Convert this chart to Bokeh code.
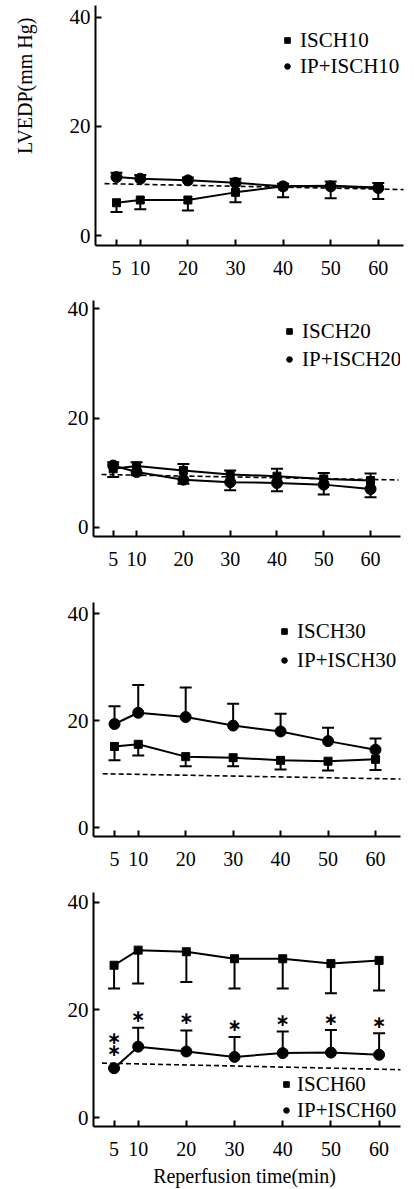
import math
from bokeh.plotting import figure
from bokeh.models import (ColumnDataSource, Whisker, TeeHead, Legend, LegendItem,
                          Label, FixedTicker, Range1d)
from bokeh.layouts import column, row
from bokeh.core.properties import value
from bokeh.embed import file_html
from bokeh.resources import INLINE

# ---------------- data ----------------
times = [5, 10, 20, 30, 40, 50, 60]
x_ticks = [5, 10, 20, 30, 40, 50, 60]
y_ticks = [0, 20, 40]

isch10 = [6.0, 6.5, 6.5, 7.9, 9.0, 9.1, 8.8]
isch10_err = [1.7, 1.7, 1.9, 1.8, 2.0, 2.3, 2.1]          # drawn downward
ip_isch10 = [10.7, 10.4, 10.1, 9.65, 9.0, 9.0, 8.7]
ip_isch10_err = [0.8, 0.7, 0.5, 0.75, 0.5, 0.9, 0.9]      # drawn upward

isch20 = [10.7, 11.2, 10.4, 9.65, 9.35, 8.85, 8.55]
isch20_err = [1.2, 0.7, 1.2, 0.75, 1.35, 1.1, 1.3]        # upward
ip_isch20 = [11.3, 10.1, 8.7, 8.25, 8.1, 7.8, 7.0]
ip_isch20_err = [2.1, 0.6, 0.75, 1.5, 1.5, 1.8, 1.5]      # downward

isch30 = [15.2, 15.6, 13.3, 13.1, 12.6, 12.45, 12.8]
isch30_err = [2.6, 2.1, 1.8, 1.6, 1.7, 1.75, 2.0]         # downward
ip_isch30 = [19.4, 21.5, 20.7, 19.1, 18.0, 16.2, 14.6]
ip_isch30_err = [3.3, 5.2, 5.5, 4.1, 3.3, 2.5, 2.1]       # upward

isch60 = [28.3, 31.1, 30.8, 29.5, 29.5, 28.6, 29.2]
isch60_err = [4.3, 6.2, 5.6, 5.5, 5.5, 5.5, 5.6]          # downward
ip_isch60 = [9.2, 13.2, 12.3, 11.3, 12.0, 12.1, 11.7]
ip_isch60_err = [0.0, 3.5, 3.9, 3.7, 4.0, 4.2, 4.0]       # upward

# significance marks (panel 4)
sig_x = [5, 5, 10, 20, 30, 40, 50, 60]
sig_y = [14.8, 12.6, 18.9, 18.5, 17.2, 18.2, 18.3, 17.8]

# baseline dashed reference line (ends)
ref_x = [2.5, 66]
ref1_y = [9.5, 8.4]
ref2_y = [9.65, 8.65]
ref3_y = [10.1, 9.1]
ref4_y = [10.15, 8.9]

labels1 = ["ISCH10", "IP+ISCH10"]
labels2 = ["ISCH20", "IP+ISCH20"]
labels3 = ["ISCH30", "IP+ISCH30"]
labels4 = ["ISCH60", "IP+ISCH60"]

y_title = "LVEDP(mm Hg)"
x_title = "Reperfusion  time(min)"

SERIF = "Liberation Serif"
W = 414
TW = 40   # width of the strip that carries the y title


def make_panel(sq, sq_err, sq_up, ci, ci_err, ci_up, labels, ref_y, geo):
    p = figure(width=geo.get("w", W), height=geo["h"], output_backend="svg",
               toolbar_location=None,
               x_range=Range1d(*geo["xr"]), y_range=Range1d(*geo["yr"]),
               min_border_left=geo["bl"], min_border_right=geo["br"],
               min_border_top=geo["bt"], min_border_bottom=geo["bb"])
    p.grid.visible = False
    p.outline_line_color = None
    p.background_fill_color = "white"
    p.border_fill_color = "white"

    for ax in (p.xaxis[0], p.yaxis[0]):
        ax.axis_line_width = 2
        ax.axis_line_color = "black"
        ax.major_tick_line_width = 2
        ax.major_tick_line_color = "black"
        ax.major_tick_in = 6
        ax.major_tick_out = 0
        ax.minor_tick_line_color = None
        ax.major_label_text_font = SERIF
        ax.major_label_text_color = "black"
    p.xaxis.ticker = FixedTicker(ticks=x_ticks)
    p.yaxis.ticker = FixedTicker(ticks=y_ticks)
    p.xaxis.major_label_text_font_size = "20px"
    p.yaxis.major_label_text_font_size = "21px"
    p.xaxis.major_label_standoff = 15
    p.yaxis.major_label_standoff = 5

    # reference dashed line
    p.line(ref_x, ref_y, line_color="black", line_width=1.6, line_dash="5 3")

    def add_series(vals, err, up, marker, size):
        lo = [v - e if not up else v for v, e in zip(vals, err)]
        hi = [v + e if up else v for v, e in zip(vals, err)]
        src = ColumnDataSource(dict(x=times, y=vals, lo=lo, hi=hi))
        head = TeeHead(size=12, line_width=2, line_color="black")
        w = Whisker(source=src, base="x", upper="hi", lower="lo",
                    line_width=2, line_color="black",
                    upper_head=head if up else None,
                    lower_head=None if up else head)
        p.add_layout(w)
        p.line("x", "y", source=src, line_color="black", line_width=2)
        r = p.scatter("x", "y", source=src, marker=marker, size=size,
                      fill_color="black", line_color="black")
        return r

    r_sq = add_series(sq, sq_err, sq_up, "square", 8)
    r_ci = add_series(ci, ci_err, ci_up, "circle", 11)

    leg = Legend(items=[LegendItem(label=labels[0], renderers=[r_sq]),
                        LegendItem(label=labels[1], renderers=[r_ci])],
                 location=geo["leg"], orientation="vertical",
                 padding=0, margin=0, spacing=geo["sp"],
                 glyph_width=14, glyph_height=26, label_height=26,
                 label_standoff=geo["ls"],
                 label_text_font=SERIF, label_text_font_size="21px",
                 label_text_color="black",
                 border_line_color=None, background_fill_alpha=0)
    p.add_layout(leg)
    return p


geo1 = dict(w=W - TW, h=290, xr=(0.59, 65.3), yr=(-1.83, 42.12), bl=95 - TW, br=11,
            bt=5, bb=45, leg=(185, 166), sp=0, ls=6)
geo2 = dict(h=300, xr=(0.79, 66.4), yr=(-1.70, 41.52), bl=93, br=5, bt=10, bb=54,
            leg=(189, 164), sp=2, ls=6)
geo3 = dict(h=290, xr=(0.57, 65.27), yr=(-1.63, 42.11), bl=93, br=14, bt=12, bb=44,
            leg=(184, 163), sp=3, ls=6)
geo4 = dict(h=309, xr=(0.73, 64.44), yr=(-1.61, 41.79), bl=91, br=14, bt=12, bb=62,
            leg=(186, 3), sp=0, ls=4)

p1 = make_panel(isch10, isch10_err, False, ip_isch10, ip_isch10_err, True, labels1, ref1_y, geo1)
p2 = make_panel(isch20, isch20_err, True, ip_isch20, ip_isch20_err, False, labels2, ref2_y, geo2)
p3 = make_panel(isch30, isch30_err, False, ip_isch30, ip_isch30_err, True, labels3, ref3_y, geo3)
p4 = make_panel(isch60, isch60_err, False, ip_isch60, ip_isch60_err, True, labels4, ref4_y, geo4)

# narrow strip on the left of panel 1 carrying the y title (1 unit = 1 px)
strip = figure(width=TW, height=290, output_backend="svg", toolbar_location=None,
               x_range=Range1d(0, TW), y_range=Range1d(0, 290),
               x_axis_type=None, y_axis_type=None,
               min_border_left=0, min_border_right=0, min_border_top=0, min_border_bottom=0)
strip.grid.visible = False
strip.outline_line_color = None
strip.add_layout(Label(x=24, y=290 - 97, text=y_title, angle=math.pi / 2,
                       text_font=SERIF, text_font_size="20px", text_color="black",
                       text_align="center", text_baseline="middle"))

# x axis title on the last panel
p4.xaxis.axis_label = x_title
p4.xaxis.axis_label_text_font = SERIF
p4.xaxis.axis_label_text_font_size = "20px"
p4.xaxis.axis_label_text_font_style = "normal"
p4.xaxis.axis_label_text_color = "black"
p4.xaxis.axis_label_standoff = 6

# significance asterisks
p4.text(x=sig_x, y=sig_y, text=["\u2217"] * len(sig_x),
        text_font=value("DejaVu Sans"), text_font_style="bold",
        text_font_size="17px", text_align="center", text_baseline="middle",
        text_color="black")

layout = column(row(strip, p1, spacing=0), p2, p3, p4, spacing=0)
open("out.html", "w").write(file_html(layout, INLINE))
